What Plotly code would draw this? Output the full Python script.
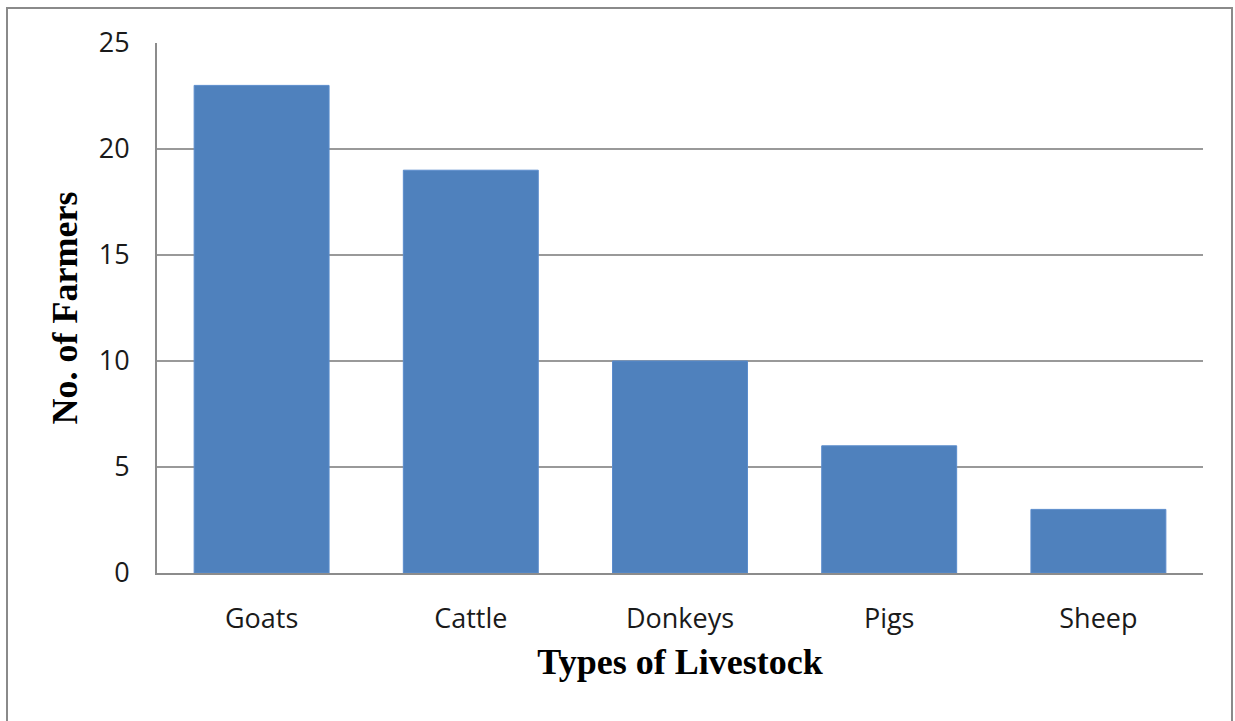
import plotly.graph_objects as go

# Livestock survey: number of farmers keeping each type
livestock = ["Goats", "Cattle", "Donkeys", "Pigs", "Sheep"]
farmers = [23, 19, 10, 6, 3]
y_ticks = [0, 5, 10, 15, 20, 25]

W, H = 1235, 721
L, R, T, B = 157, 32, 43, 148
plot_w = W - L - R
plot_h = H - T - B


def px_x(px):
    return (px - L) / plot_w


def px_y(py):
    return (H - B - py) / plot_h


fig = go.Figure(
    go.Bar(
        x=livestock,
        y=farmers,
        marker=dict(color="#4F81BD", line=dict(color="#5b8ccc", width=1)),
        width=0.645,
    )
)

tick_font = dict(family="Open Sans, Noto Sans, sans-serif", size=27, color="#1a1a1a")
title_font = dict(family="Liberation Serif, Times New Roman, serif", size=36, color="#000000")

fig.update_layout(
    width=W,
    height=H,
    margin=dict(l=L, r=R, t=T, b=B),
    paper_bgcolor="white",
    plot_bgcolor="white",
    showlegend=False,
    xaxis=dict(
        showline=True,
        linecolor="#8c8c8c",
        linewidth=2,
        ticks="",
        tickfont=tick_font,
        ticklabelstandoff=21,
        title=dict(text="<b>Types of Livestock</b>", font=title_font, standoff=13),
    ),
    yaxis=dict(
        range=[0, 25],
        tickvals=y_ticks,
        showgrid=True,
        gridcolor="#999999",
        gridwidth=1.5,
        showline=True,
        linecolor="#8c8c8c",
        linewidth=2,
        zeroline=False,
        ticks="",
        tickfont=tick_font,
        ticklabelstandoff=20,
        title=dict(text="<b>No. of Farmers</b>", font=title_font, standoff=10),
    ),
    shapes=[
        # outer chart frame (open at the bottom)
        dict(
            type="path",
            xref="paper",
            yref="paper",
            path=(
                f"M {px_x(7)} {px_y(725)} L {px_x(7)} {px_y(8)} "
                f"L {px_x(1232)} {px_y(8)} L {px_x(1232)} {px_y(725)}"
            ),
            line=dict(color="#8a8a8a", width=2),
            layer="above",
        )
    ],
)

fig.write_html("out.html")
